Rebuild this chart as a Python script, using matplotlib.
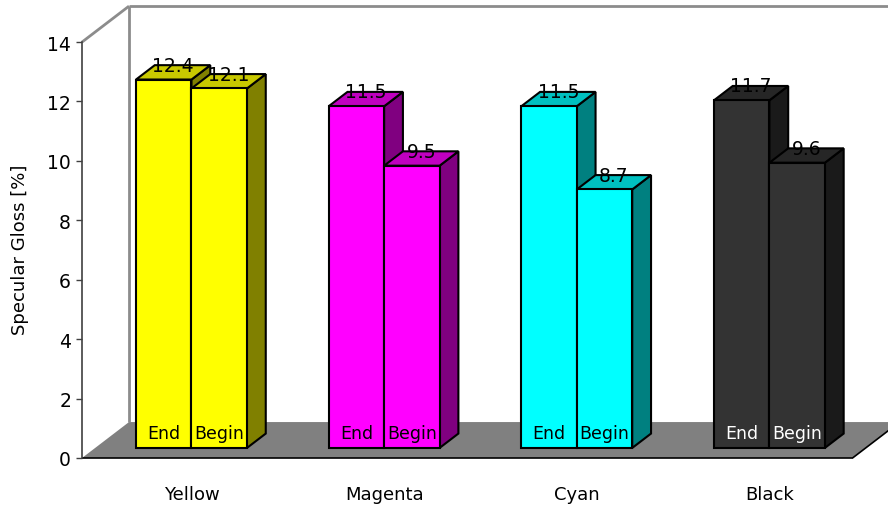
import matplotlib
matplotlib.use("Agg")
import matplotlib.pyplot as plt
from matplotlib.patches import Polygon

categories = ["Yellow", "Magenta", "Cyan", "Black"]
end_vals = [12.4, 11.5, 11.5, 11.7]
begin_vals = [12.1, 9.5, 8.7, 9.6]
series_names = ["End", "Begin"]
yticks = [0, 2, 4, 6, 8, 10, 12, 14]

# front / side / top shades for every category
front_cols = ["#FFFF00", "#FF00FF", "#00FFFF", "#333333"]
side_cols = ["#808000", "#800080", "#008080", "#1A1A1A"]
top_cols = ["#C8C800", "#C000C0", "#00C0C0", "#262626"]
inner_text_cols = ["black", "black", "black", "white"]

# oblique projection: depth d in [0, 1] shifts right and up
DX = 0.244   # category units
DY = 1.21    # value units
D0, D1 = 0.28, 0.68   # bar depth range
W = 0.288    # bar width
X0, X1 = -0.5, 3.5
YMAX = 14


def proj(x, v, d):
    return (x + d * DX, v + d * DY)


fig = plt.figure(figsize=(8.88, 5.06), dpi=100)
ax = fig.add_axes([82 / 888, 47 / 506, 806 / 888, 459 / 506])
ax.set_xlim(-0.5, 3.684)
ax.set_ylim(0, 15.45)

wall_col = "#8C8C8C"

# back wall, floor and left wall outline
back = Polygon([proj(X0, 0, 1), proj(X1 + 1, 0, 1), proj(X1 + 1, YMAX, 1), proj(X0, YMAX, 1)],
               closed=True, fc="white", ec="none", zorder=1)
ax.add_patch(back)
floor = Polygon([proj(X0, 0, 0), proj(X1, 0, 0), proj(X1, 0, 1), proj(X0, 0, 1)],
                closed=True, fc="#808080", ec="none", zorder=2, clip_on=False)
ax.add_patch(floor)

def seg(p, q, **kw):
    ax.plot([p[0], q[0]], [p[1], q[1]], solid_capstyle="butt", clip_on=False, **kw)

seg(proj(X0, 0, 1), proj(X0, YMAX, 1), color=wall_col, lw=2, zorder=3)
seg(proj(X0, YMAX, 1), proj(X1 + 1, YMAX, 1), color=wall_col, lw=2, zorder=3)
seg(proj(X0, YMAX, 0), proj(X0, YMAX, 1), color=wall_col, lw=2, zorder=3)
seg(proj(X0, 0, 0), proj(X1, 0, 0), color="black", lw=1.2, zorder=3)
seg(proj(X1, 0, 0), proj(X1, 0, 1), color="black", lw=1.2, zorder=3)


def draw_bar(xl, val, fc, sc, tc):
    xr = xl + W
    front = [proj(xl, 0, D0), proj(xr, 0, D0), proj(xr, val, D0), proj(xl, val, D0)]
    side = [proj(xr, 0, D0), proj(xr, 0, D1), proj(xr, val, D1), proj(xr, val, D0)]
    top = [proj(xl, val, D0), proj(xr, val, D0), proj(xr, val, D1), proj(xl, val, D1)]
    for pts, c in ((side, sc), (top, tc), (front, fc)):
        ax.add_patch(Polygon(pts, closed=True, fc=c, ec="black", lw=1.5,
                             joinstyle="miter", zorder=5))


for i, cat in enumerate(categories):
    for j, vals in enumerate([end_vals, begin_vals]):
        xl = i - W + j * W
        val = vals[i]
        draw_bar(xl, val, front_cols[i], side_cols[i], top_cols[i])
        xc = xl + W / 2
        # value on top of the bar
        tx = xc + (D0 + D1) / 2 * DX
        ty = val + D1 * DY
        ax.text(tx, ty, f"{val:.1f}", ha="center", va="center", fontsize=13.5,
                color="black", zorder=6)
        # series name at the foot of the bar
        fx, fy = proj(xc, 0.34, D0)
        ax.text(fx, fy, series_names[j], ha="center", va="baseline", fontsize=12.5,
                color=inner_text_cols[i], zorder=6)
    lx, _ = proj(i, 0, D0)
    ax.text(lx, -1.38, cat, ha="center", va="baseline", fontsize=13, clip_on=False)

for s in ["top", "right", "bottom"]:
    ax.spines[s].set_visible(False)
ax.spines["left"].set_bounds(0, YMAX)
ax.spines["left"].set_color("#404040")
ax.spines["left"].set_linewidth(1.2)
ax.spines["left"].set_zorder(4)
ax.set_xticks([])
ax.set_yticks(yticks)
ax.tick_params(axis="y", direction="out", length=4.3, width=1, color="#404040",
               pad=3.6, labelsize=13.5)
ax.patch.set_visible(False)

fig.text(20 / 888, 1 - 250 / 506, "Specular Gloss [%]", rotation=90,
         ha="center", va="center", fontsize=13)

fig.savefig("out.png", dpi=100)
